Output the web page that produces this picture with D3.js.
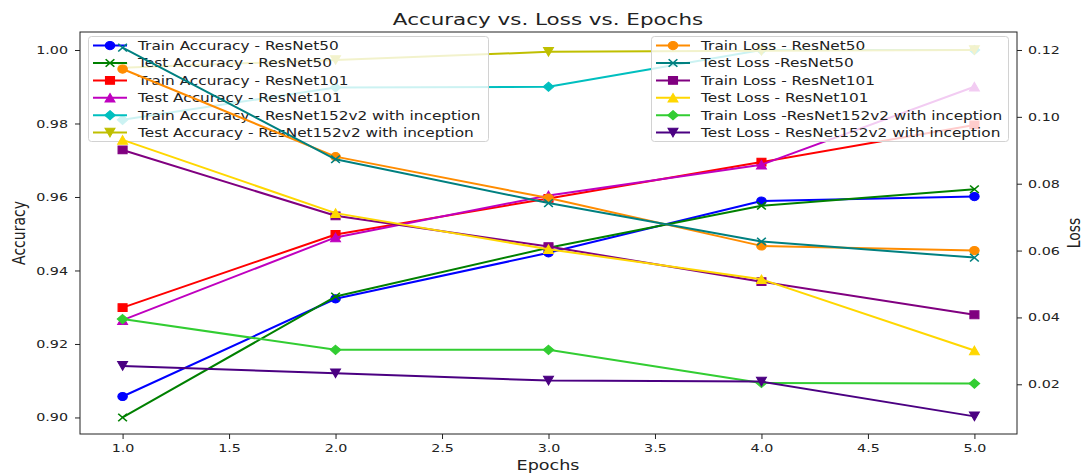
<!DOCTYPE html>
<html><head><meta charset="utf-8">
<script src="https://cdn.jsdelivr.net/npm/d3@7"></script>
<style>
body{margin:0;background:#fff}
svg{display:block}
text{font-family:"DejaVu Sans",sans-serif;fill:#222}
</style>
</head><body>
<svg id="c" width="1089" height="475"></svg>
<script>
// ---------- data ----------
const epochs = [1, 2, 3, 4, 5];
const xTicks = [1.0, 1.5, 2.0, 2.5, 3.0, 3.5, 4.0, 4.5, 5.0];
const accTicks = [0.90, 0.92, 0.94, 0.96, 0.98, 1.00];
const lossTicks = [0.02, 0.04, 0.06, 0.08, 0.10, 0.12];

const trainAccR50  = [0.9057, 0.9323, 0.9448, 0.9589, 0.9601];
const testAccR50   = [0.9000, 0.9329, 0.9462, 0.9576, 0.9621];
const trainAccR101 = [0.9299, 0.9498, 0.9596, 0.9695, 0.9796];
const testAccR101  = [0.9265, 0.9490, 0.9604, 0.9688, 0.9900];
const trainAccR152 = [0.9810, 0.9898, 0.9900, 1.0000, 1.0000];
const testAccR152  = [0.9952, 0.9973, 0.9995, 0.9998, 1.0000];

const trainLossR50  = [0.1143, 0.0881, 0.0757, 0.0614, 0.0600];
const testLossR50   = [0.1207, 0.0873, 0.0742, 0.0627, 0.0579];
const trainLossR101 = [0.0901, 0.0704, 0.0612, 0.0507, 0.0408];
const testLossR101  = [0.0931, 0.0712, 0.0604, 0.0514, 0.0301];
const trainLossR152 = [0.0395, 0.0303, 0.0303, 0.0204, 0.0202];
const testLossR152  = [0.0255, 0.0233, 0.0211, 0.0208, 0.0104];

const accNames = ["Train Accuracy - ResNet50", "Test Accuracy - ResNet50", "Train Accuracy - ResNet101",
  "Test Accuracy - ResNet101", "Train Accuracy - ResNet152v2 with inception", "Test Accuracy - ResNet152v2 with inception"];
const lossNames = ["Train Loss - ResNet50", "Test Loss -ResNet50", "Train Loss - ResNet101",
  "Test Loss - ResNet101", "Train Loss -ResNet152v2 with inception", "Test Loss - ResNet152v2 with inception"];
const accValues = [trainAccR50, testAccR50, trainAccR101, testAccR101, trainAccR152, testAccR152];
const lossValues = [trainLossR50, testLossR50, trainLossR101, testLossR101, trainLossR152, testLossR152];
const accColors = ["#0000ff", "#008000", "#ff0000", "#bf00bf", "#00bfbf", "#bfbf00"];
const lossColors = ["#ff8c00", "#008080", "#800080", "#ffd700", "#32cd32", "#4b0082"];
const markers = ["o", "x", "s", "^", "D", "v"];

// ---------- layout ----------
const W = 1089, H = 475;
const L = 80, R = 1017, T = 32, B = 434;
const SX = 1.3; // horizontal stretch of the original picture

const svg = d3.select("#c");
const x = d3.scaleLinear().domain([0.8, 5.2]).range([L, R]);
const yA = d3.scaleLinear().domain([0.8955, 1.0049]).range([B, T]);
const yL = d3.scaleLinear().domain([0.00513, 0.12538]).range([B, T]);

function markerPath(m) {
  const r = 4.1;
  switch (m) {
    case "o": return `M${r},0A${r},${r} 0 1,1 ${-r},0A${r},${r} 0 1,1 ${r},0Z`;
    case "s": { const h = 3.9; return `M${-h},${-h}H${h}V${h}H${-h}Z`; }
    case "^": { const h = 4.3; return `M0,${-h}L${h},${h}L${-h},${h}Z`; }
    case "v": { const h = 4.3; return `M0,${h}L${h},${-h}L${-h},${-h}Z`; }
    case "D": { const h = 4.6; return `M0,${-h}L${h},0L0,${h}L${-h},0Z`; }
    case "x": { const h = 3.8; return `M${-h},${-h}L${h},${h}M${-h},${h}L${h},${-h}`; }
  }
}
function drawMarker(g, m, color, cx, cy) {
  g.append("path")
    .attr("d", markerPath(m))
    .attr("transform", `translate(${cx},${cy}) scale(1.15,1)`)
    .attr("fill", m === "x" ? "none" : color)
    .attr("stroke", color)
    .attr("stroke-width", m === "x" ? 1.4 : 1);
}
function drawSeries(g, vals, yScale, color, m) {
  const line = d3.line().x((d, i) => x(epochs[i])).y(d => yScale(d));
  g.append("path").datum(vals).attr("d", line)
    .attr("fill", "none").attr("stroke", color).attr("stroke-width", 2)
    .attr("stroke-linejoin", "round");
  vals.forEach((v, i) => drawMarker(g, m, color, x(epochs[i]), yScale(v)));
}
function stretchedText(parent, tx, ty, str, size, anchor, rotate) {
  const g = parent.append("g").attr("transform", `translate(${tx},${ty}) scale(${SX},1)` + (rotate ? ` rotate(${rotate})` : ""));
  g.append("text").attr("text-anchor", anchor).attr("font-size", size).text(str);
  return g;
}
function legend(parent, x0, x1, names, colors) {
  const g = parent.append("g");
  g.append("rect").attr("x", x0).attr("y", 36.5).attr("width", x1 - x0).attr("height", 105)
    .attr("rx", 3).attr("fill", "#fff").attr("fill-opacity", 0.8)
    .attr("stroke", "#d2d2d2").attr("stroke-width", 1);
  names.forEach((n, i) => {
    const cy = 45.6 + i * 17.4;
    const hx0 = x0 + 4.5, hx1 = x0 + 38.5;
    g.append("line").attr("x1", hx0).attr("x2", hx1).attr("y1", cy).attr("y2", cy)
      .attr("stroke", colors[i]).attr("stroke-width", 2);
    drawMarker(g, markers[i], colors[i], (hx0 + hx1) / 2, cy);
    stretchedText(g, x0 + 49.5, cy + 4.3, n, 11.8, "start");
  });
}

// ---------- accuracy axis (ax1) ----------
const gAcc = svg.append("g");
accValues.forEach((vals, i) => drawSeries(gAcc, vals, yA, accColors[i], markers[i]));
legend(svg, 88.5, 488.5, accNames, accColors);

// ---------- loss axis (ax2) ----------
const gLoss = svg.append("g");
lossValues.forEach((vals, i) => drawSeries(gLoss, vals, yL, lossColors[i], markers[i]));
legend(svg, 651.5, 1008.5, lossNames, lossColors);

// ---------- frame & axes ----------
svg.append("rect").attr("x", L).attr("y", T).attr("width", R - L).attr("height", B - T)
  .attr("fill", "none").attr("stroke", "#222").attr("stroke-width", 1);

const ax = svg.append("g").attr("transform", `translate(0,${B})`)
  .call(d3.axisBottom(x).tickValues(xTicks).tickFormat(d3.format(".1f")).tickSize(5).tickPadding(5));
const ay = svg.append("g").attr("transform", `translate(${L},0)`)
  .call(d3.axisLeft(yA).tickValues(accTicks).tickFormat(d3.format(".2f")).tickSize(5));
const ay2 = svg.append("g").attr("transform", `translate(${R},0)`)
  .call(d3.axisRight(yL).tickValues(lossTicks).tickFormat(d3.format(".2f")).tickSize(5));
[ax, ay, ay2].forEach(a => {
  a.select(".domain").remove();
  a.selectAll("line").attr("stroke", "#222");
  a.selectAll("text").attr("font-size", 11).attr("font-family", "DejaVu Sans").attr("fill", "#222")
    .attr("transform", `scale(${SX},1)`);
});
ay.selectAll("text").attr("x", -12 / SX);
ay2.selectAll("text").attr("x", 11 / SX);

// ---------- labels ----------
stretchedText(svg, 548, 25, "Accuracy vs. Loss vs. Epochs", 16.5, "middle");
stretchedText(svg, 548, 470, "Epochs", 13.5, "middle");
stretchedText(svg, 25, 233, "Accuracy", 14, "middle", -90);
stretchedText(svg, 1080, 233, "Loss", 14, "middle", -90);
</script>
</body></html>
